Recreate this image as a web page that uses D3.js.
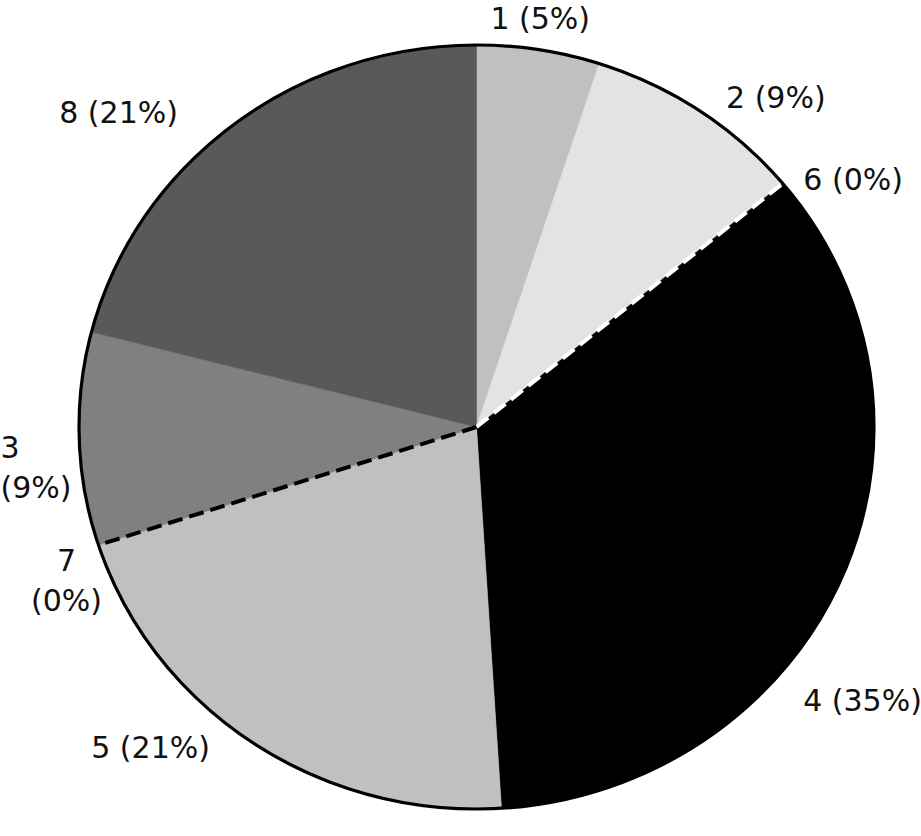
<!DOCTYPE html>
<html>
<head>
<meta charset="utf-8">
<script src="https://cdn.jsdelivr.net/npm/d3@7"></script>
<style>
  html, body { margin: 0; padding: 0; background: #fff; }
  svg { display: block; }
  text { font-family: "DejaVu Sans", "Noto Sans", sans-serif; fill: #111; }
</style>
</head>
<body>
<svg id="chart" width="921" height="836"></svg>
<script>
// slices, clockwise from 12 o'clock
const names = ["1", "2", "6", "4", "5", "7", "3", "8"];
const values = [5, 9, 0, 35, 21, 0, 9, 21];
const shades = ["#c0c0c0", "#e3e3e3", "#ffffff", "#000000", "#c0c0c0", "#000000", "#808080", "#595959"];

const width = 921, height = 836;
const cx = 476.5, cy = 427;
const rx = 397.5, ry = 382; // the pie is slightly squashed

const svg = d3.select("#chart");
const color = d3.scaleOrdinal().domain(names).range(shades);

const pie = d3.pie().value((d) => d.value).sort(null);
const data = pie(names.map((n, i) => ({ name: n, value: values[i] })));

const arc = d3.arc().innerRadius(0).outerRadius(rx);

// group scaled in y to get the ellipse
const g = svg.append("g")
  .attr("transform", `translate(${cx},${cy}) scale(1,${ry / rx})`);

g.selectAll("path.slice")
  .data(data.filter((d) => d.value > 0))
  .join("path")
  .attr("class", "slice")
  .attr("d", arc)
  .attr("fill", (d) => color(d.data.name))
  .attr("stroke", (d) => color(d.data.name))
  .attr("stroke-width", 0.6)
  .attr("vector-effect", "non-scaling-stroke");

// zero slices show up as a dashed spoke
g.selectAll("line.zero")
  .data(data.filter((d) => d.value === 0))
  .join("line")
  .attr("class", "zero")
  .attr("x1", 0).attr("y1", 0)
  .attr("x2", (d) => rx * Math.sin(d.startAngle))
  .attr("y2", (d) => -rx * Math.cos(d.startAngle))
  .attr("stroke", (d) => (d.data.name === "6" ? "#fff" : "#000"))
  .attr("stroke-width", 4)
  .attr("stroke-dasharray", "15,7")
  .attr("vector-effect", "non-scaling-stroke");

// outline
g.append("path")
  .attr("d", d3.arc().innerRadius(0).outerRadius(rx)({ startAngle: 0, endAngle: 2 * Math.PI }))
  .attr("fill", "none")
  .attr("stroke", "#000")
  .attr("stroke-width", 3.2)
  .attr("vector-effect", "non-scaling-stroke");

// labels: mid-angle just outside the rim, with some hand nudges
const labelK = 1.09;
const wrapped = new Set(["3", "7"]);
const nudge = {
  "1": [-4, 2], "2": [6, 14], "6": [-7, 17], "4": [-71, 108],
  "5": [-23, -24], "7": [2, 24], "3": [-43, 27], "8": [-33, 14]
};
const anchorFor = {
  "3": "start", "7": "middle"
};
const lineH = 40;

data.forEach((d) => {
  const a = (d.startAngle + d.endAngle) / 2;
  const s = Math.sin(a);
  const [dx, dy] = nudge[d.data.name];
  const x = cx + rx * labelK * s + dx;
  const y = cy - ry * labelK * Math.cos(a) + dy;
  const anchor = anchorFor[d.data.name] || (Math.abs(s) < 0.3 ? "middle" : s > 0 ? "start" : "end");
  const lines = wrapped.has(d.data.name)
    ? [d.data.name, `(${d.data.value}%)`]
    : [`${d.data.name} (${d.data.value}%)`];
  const t = svg.append("text")
    .attr("x", x)
    .attr("y", y)
    .attr("text-anchor", anchor)
    .attr("dominant-baseline", "central")
    .style("font-size", "30px");
  lines.forEach((ln, i) => {
    t.append("tspan")
      .attr("x", x)
      .attr("y", y + (i - (lines.length - 1) / 2) * lineH)
      .text(ln);
  });
});
</script>
</body>
</html>
